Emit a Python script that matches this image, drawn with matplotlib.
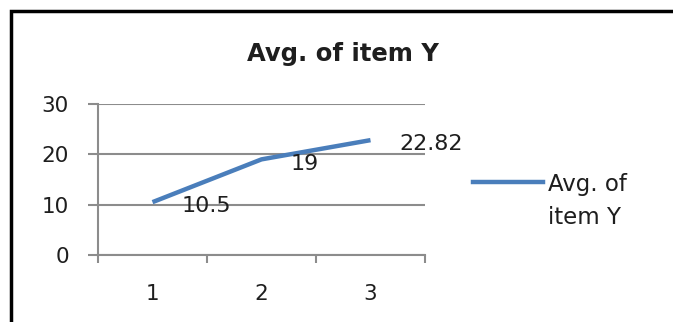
import matplotlib.pyplot as plt
from matplotlib.patches import Rectangle
from matplotlib.lines import Line2D

categories = [1, 2, 3]
avg_values = [10.5, 19, 22.82]
value_labels = ["10.5", "19", "22.82"]
series_name = "Avg. of item Y"

W, H = 673, 322
fig = plt.figure(figsize=(W / 100, H / 100), dpi=100)

def fx(px):
    return px / W

def fy(py):
    return 1 - py / H

blue = "#4a7ebb"
grid = "#8c8c8c"
ink = "#1e1e1e"

# plot area
ax = fig.add_axes([fx(98), fy(255), fx(425) - fx(98), fy(104) - fy(255)])
ax.plot(categories, avg_values, color=blue, lw=3.2, solid_capstyle="butt", zorder=3)
ax.set_xlim(0.5, 3.5)
ax.set_ylim(0, 30)

for s in ["top", "right"]:
    ax.spines[s].set_visible(False)
for s in ["left", "bottom"]:
    ax.spines[s].set_color(grid)
    ax.spines[s].set_linewidth(1.5)

ax.set_yticks([0, 10, 20, 30])
ax.yaxis.grid(True, color=grid, lw=1.5)
ax.set_axisbelow(True)
ax.tick_params(axis="y", length=7, width=1.5, color=grid, pad=14,
               labelsize=15.5, labelcolor=ink)

# category boundaries as ticks, names centred between them
ax.set_xticks([0.5, 1.5, 2.5, 3.5])
ax.set_xticklabels([])
ax.tick_params(axis="x", which="major", length=6, width=1.5, color=grid)
ax.set_xticks(categories, minor=True)
ax.set_xticklabels([str(c) for c in categories], minor=True)
ax.tick_params(axis="x", which="minor", length=0, pad=21,
               labelsize=15.5, labelcolor=ink)

for x, y, t in zip(categories, avg_values, value_labels):
    ax.annotate(t, (x, y), xytext=(21, -3), textcoords="offset points",
                ha="left", va="center", fontsize=16, color=ink)

fig.text(fx(343), fy(54), series_name, ha="center", va="center",
         fontsize=17.5, fontweight="bold", color=ink)

# legend
fig.add_artist(Line2D([fx(473), fx(543)], [fy(182), fy(182)], color=blue, lw=3.2,
                      transform=fig.transFigure))
fig.text(fx(548), fy(184), "Avg. of", ha="left", va="center", fontsize=16.5,
         color=ink)
fig.text(fx(548), fy(218), "item Y", ha="left", va="center", fontsize=16.5,
         color=ink)

# chart frame
fig.add_artist(Rectangle((fx(11), fy(H + 20)), 1.2, fy(11) - fy(H + 20),
                         transform=fig.transFigure, fill=False,
                         edgecolor="black", lw=2.5, clip_on=False))

fig.savefig("out.png", dpi=100)
